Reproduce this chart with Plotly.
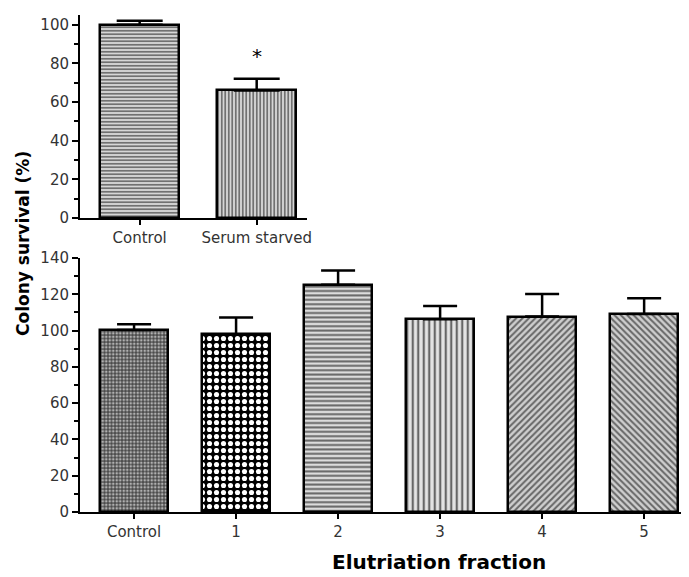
import plotly.graph_objects as go

# ---- data ----
top_categories = ["Control", "Serum starved"]
top_values = [100, 66]
top_errors = [2, 6]

bottom_categories = ["Control", "1", "2", "3", "4", "5"]
bottom_values = [100.3, 98, 125.3, 106.3, 107.7, 109.1]
bottom_errors = [3.2, 9.2, 7.8, 7.3, 12.4, 8.7]

# page body has an 8px margin; figure is sized to fill the rest of the window
OFF = 8
W, H = 689 - OFF, 577 - OFF
FONT = "DejaVu Sans, Liberation Sans, Arial, sans-serif"


def px_x(p):
    return (p - OFF) / W


def px_y(p):
    return 1 - (p - OFF) / H


fig = go.Figure()

fig.add_trace(go.Bar(
    x=top_categories, y=top_values, width=0.675,
    xaxis="x", yaxis="y",
    marker=dict(
        color="#d6d6d6",
        line=dict(color="black", width=2.5),
        pattern=dict(shape=["-", "|"], fgcolor="#666666", bgcolor="#d6d6d6",
                     size=3.5, solidity=0.45, fillmode="replace"),
    ),
    error_y=dict(type="data", array=top_errors, arrayminus=[0, 0], symmetric=False,
                 color="black", thickness=2.5, width=23),
    showlegend=False,
))

fig.add_trace(go.Bar(
    x=bottom_categories, y=bottom_values, width=0.67,
    xaxis="x2", yaxis="y2",
    marker=dict(
        color="#d6d6d6",
        line=dict(color="black", width=2.5),
        pattern=dict(
            shape=[".", ".", "-", "|", "/", "\\"],
            fgcolor=["#b0b0b0", "#ffffff", "#666666", "#666666", "#666666", "#666666"],
            bgcolor=["#4a4a4a", "#000000", "#dcdcdc", "#e4e4e4", "#cfcfcf", "#cfcfcf"],
            size=[3.5, 7, 4.4, 5.5, 4.5, 4.5],
            solidity=[0.45, 0.42, 0.45, 0.4, 0.45, 0.45],
            fillmode="replace",
        ),
    ),
    error_y=dict(type="data", array=bottom_errors, arrayminus=[0] * 6, symmetric=False,
                 color="black", thickness=2.5, width=17),
    showlegend=False,
))

tickfont = dict(family=FONT, size=15, color="#333333")

common_y = dict(showline=True, linecolor="black", linewidth=2, ticks="outside",
                ticklen=6, tickwidth=2, tickcolor="black", showgrid=False,
                zeroline=False, tickfont=tickfont, automargin=False,
                minor=dict(ticks="outside", ticklen=4, tickwidth=1.5, tickcolor="black", dtick=10))
common_x = dict(showline=True, linecolor="black", linewidth=2, ticks="outside",
                ticklen=5, tickwidth=2, tickcolor="black", showgrid=False,
                zeroline=False, tickfont=tickfont, automargin=False)

fig.update_layout(
    width=W, height=H,
    margin=dict(l=0, r=0, t=0, b=0),
    paper_bgcolor="white", plot_bgcolor="white",
    bargap=0,
    xaxis=dict(domain=[px_x(80), px_x(307)], anchor="y", range=[-0.51, 1.43], **common_x),
    yaxis=dict(domain=[px_y(218), px_y(15)], anchor="x", range=[0, 105], dtick=20, **common_y),
    xaxis2=dict(domain=[px_x(80), px_x(688)], anchor="y2", range=[-0.53, 5.43], **common_x),
    yaxis2=dict(domain=[px_y(512), px_y(258)], anchor="x2", range=[0, 140], dtick=20, **common_y),
    annotations=[
        dict(text="*", x="Serum starved", y=76.5, xref="x", yref="y", showarrow=False,
             font=dict(family=FONT, size=20, color="black"), yanchor="bottom", xanchor="center"),
        dict(text="<b>Colony survival (%)</b>", x=px_x(23), y=px_y(244), xref="paper", yref="paper",
             showarrow=False, textangle=-90, xanchor="center", yanchor="middle",
             font=dict(family=FONT, size=17, color="black")),
        dict(text="<b>Elutriation fraction</b>", x=px_x(439), y=px_y(562), xref="paper", yref="paper",
             showarrow=False, xanchor="center", yanchor="middle",
             font=dict(family=FONT, size=20, color="black")),
    ],
)

fig.write_html("out.html")
